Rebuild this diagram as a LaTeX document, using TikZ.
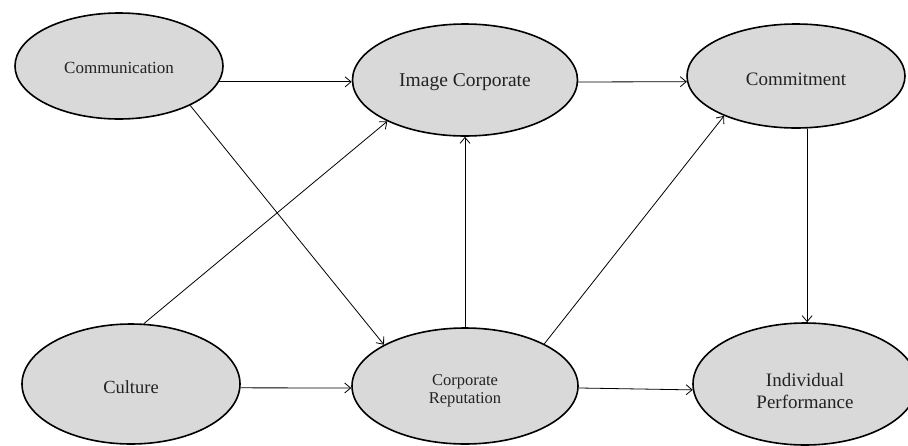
\documentclass[tikz,border=0pt]{standalone}
\usepackage{fontspec}
\setmainfont{Liberation Serif}
\usetikzlibrary{arrows.meta,shapes.geometric}
\definecolor{ovalfill}{HTML}{D9D9D9}
\definecolor{inktext}{HTML}{222222}
\begin{document}
\begin{tikzpicture}[x=1pt,y=-1pt,
  oval/.style={ellipse, draw=black, line width=1.6pt, fill=ovalfill, inner sep=0pt, align=center, text=inktext},
  link/.style={line width=0.8pt, -{Straight Barb[length=6pt,width=10pt]}}]
\useasboundingbox (0,0) rectangle (908,445);
\node[oval, minimum width=208pt, minimum height=106pt, font=\fontsize{17}{19}\selectfont] (comm) at (119,66) {\rule{0pt}{15pt}Communication};
\node[oval, minimum width=225pt, minimum height=112pt, font=\fontsize{19.5}{22}\selectfont] (img) at (465,80) {\rule{0pt}{18pt}Image Corporate};
\node[oval, minimum width=218pt, minimum height=104pt, font=\fontsize{19}{22}\selectfont] (commit) at (796,76) {\rule{0pt}{19pt}Commitment};
\node[oval, minimum width=218pt, minimum height=120pt, font=\fontsize{18.5}{22}\selectfont] (culture) at (131,384) {\rule{0pt}{20pt}Culture};
\node[oval, minimum width=226pt, minimum height=116pt, font=\fontsize{16.5}{18}\selectfont] (corprep) at (465,386) {\rule{0pt}{20pt}Corporate\\Reputation};
\node[oval, minimum width=224pt, minimum height=122pt, font=\fontsize{19}{22}\selectfont] (indiv) at (805,384) {\rule{0pt}{27pt}Individual\\Performance};

\draw[link] (comm.-9) -- (comm.-9 -| img.west);
\draw[link] (img.-1) -- (commit.183);
\draw[link] (culture.-2) -- (corprep.181);
\draw[link] (corprep.-1.5) -- (indiv.183);
\draw[link] (commit.-78) -- (commit.-78 |- indiv.north);
\draw[link] (corprep.north) -- (img.south);
\draw[link] (comm.-29.3) -- (corprep.153.4);
\draw[link] (culture.78.9) -- (img.-152.3);
\draw[link] (corprep.28.3) -- (commit.-151.7);
\end{tikzpicture}
\end{document}
